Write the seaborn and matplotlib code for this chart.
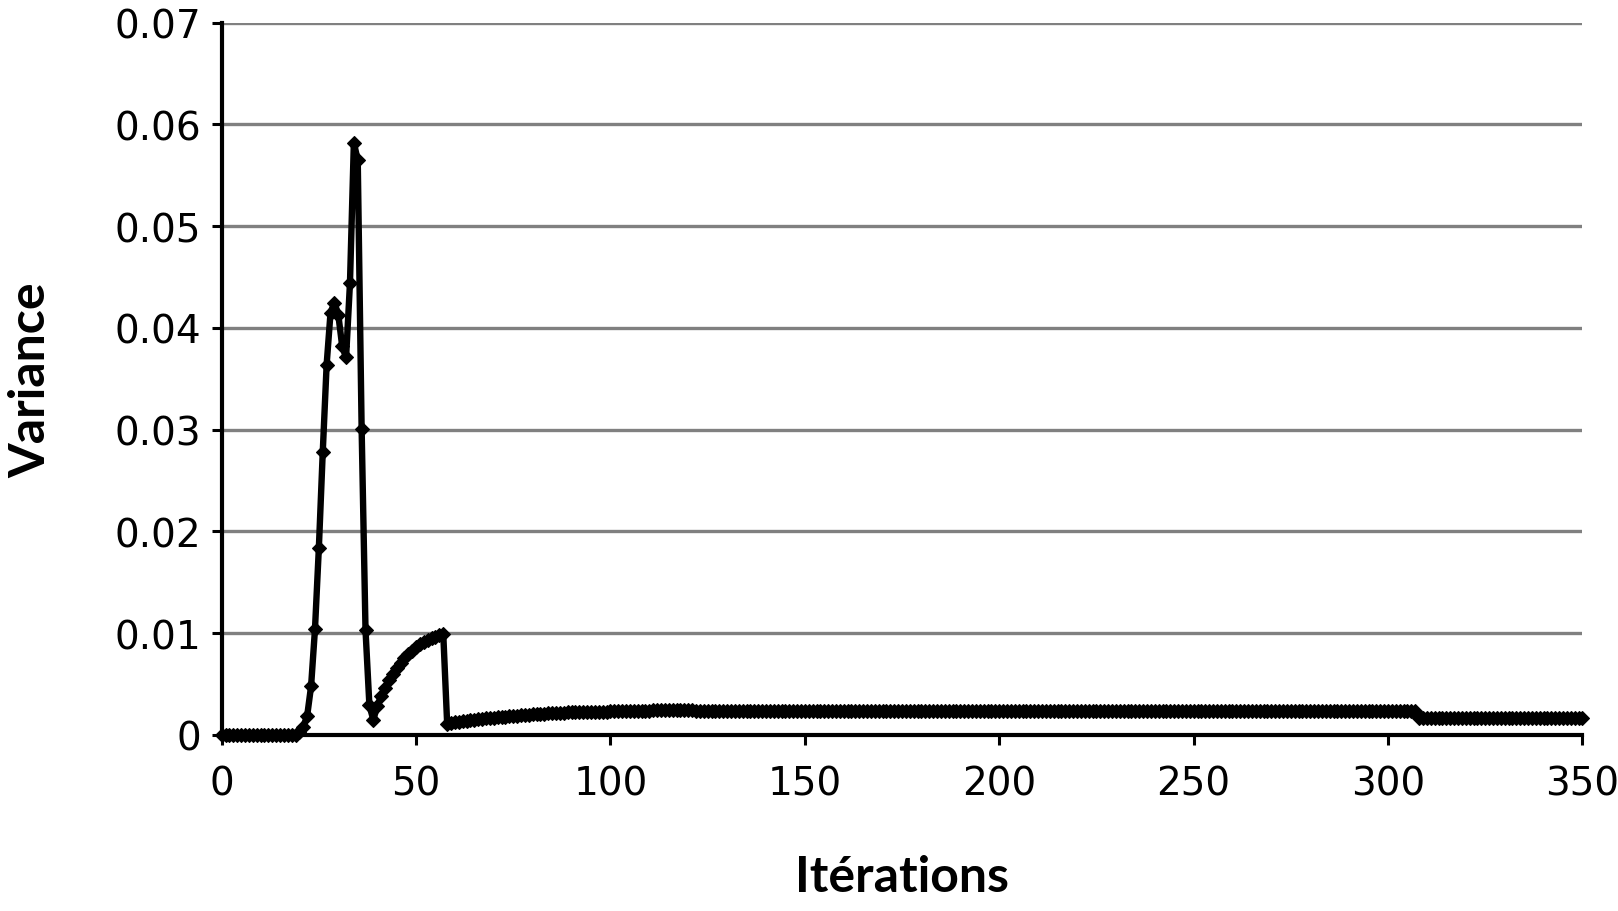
import numpy as np
import pandas as pd
import matplotlib
matplotlib.use("Agg")
import matplotlib.pyplot as plt
import seaborn as sns

# ---- data ----
flat_start = [0.0] * 20                      # iterations 0..19
rise_peak = [0.0003, 0.0008, 0.0019, 0.0048, 0.0104, 0.0184, 0.0278, 0.0364,
             0.0415, 0.0425, 0.0413, 0.0382, 0.0371, 0.0444, 0.0582, 0.0565,
             0.0301, 0.0103, 0.0029, 0.0015]  # iterations 20..39
recovery = [0.0028, 0.0038, 0.0046, 0.0054, 0.0060, 0.0066, 0.0071, 0.0076,
            0.0080, 0.0083, 0.0086, 0.0089, 0.0091, 0.0093, 0.0095, 0.0096,
            0.0098, 0.0099]                   # iterations 40..57
slow_rise = [0.0011, 0.0012, 0.0013, 0.0013, 0.0014, 0.0014, 0.0015, 0.0015,
             0.0016, 0.0016, 0.0017, 0.0017, 0.0017, 0.0018, 0.0018, 0.0018,
             0.0019, 0.0019, 0.0019, 0.0020, 0.0020, 0.0020, 0.0021, 0.0021,
             0.0021, 0.0021, 0.0022, 0.0022, 0.0022, 0.0022, 0.0022, 0.0023,
             0.0023, 0.0023, 0.0023, 0.0023, 0.0023, 0.0023, 0.0023, 0.0023,
             0.0023, 0.0023, 0.0024, 0.0024, 0.0024, 0.0024, 0.0024, 0.0024,
             0.0024, 0.0024, 0.0024, 0.0024, 0.0024, 0.0025, 0.0025, 0.0025,
             0.0025, 0.0025, 0.0025, 0.0025, 0.0025, 0.0025, 0.0025, 0.0025]  # 58..121
plateau = [0.0024] * 186                     # iterations 122..307
final = [0.0017] * 43                        # iterations 308..350

variance = flat_start + rise_peak + recovery + slow_rise + plateau + final
iterations = list(range(len(variance)))

x_ticks = [0, 50, 100, 150, 200, 250, 300, 350]
y_ticks = [0, 0.01, 0.02, 0.03, 0.04, 0.05, 0.06, 0.07]
y_tick_labels = ["0", "0.01", "0.02", "0.03", "0.04", "0.05", "0.06", "0.07"]
x_label = "Itérations"
y_label = "Variance"

df = pd.DataFrame({"Itérations": iterations, "Variance": variance})

# ---- figure ----
sns.set_theme(style="white")
plt.rcParams["font.family"] = ["Lato", "DejaVu Sans"]

fig = plt.figure(figsize=(16.18, 9.12), dpi=100)
ax = fig.add_axes([0.137, 0.193, 0.841, 0.781])

ax.set_axisbelow(True)
ax.yaxis.grid(True, color="#808080", linewidth=2.4)
ax.xaxis.grid(False)

sns.lineplot(data=df, x="Itérations", y="Variance", ax=ax, color="black",
             linewidth=4.6, marker="D", markersize=7,
             markeredgecolor="black", markerfacecolor="black",
             markeredgewidth=0.8, clip_on=False, zorder=5)

ax.set_xlim(0, 350)
ax.set_ylim(0, 0.07)
ax.set_xticks(x_ticks)
ax.set_xticklabels([str(t) for t in x_ticks])
ax.set_yticks(y_ticks)
ax.set_yticklabels(y_tick_labels)

for side in ["top", "right"]:
    ax.spines[side].set_visible(False)
for side in ["left", "bottom"]:
    ax.spines[side].set_visible(True)
    ax.spines[side].set_color("black")
    ax.spines[side].set_linewidth(3)

ax.tick_params(axis="both", which="major", direction="out", length=7, width=2.2,
               color="black", labelsize=28, labelcolor="black")
ax.tick_params(axis="y", pad=8, left=True)
ax.tick_params(axis="x", pad=14, bottom=True)
for lab in ax.get_xticklabels() + ax.get_yticklabels():
    lab.set_family(["DejaVu Sans"])

ax.set_xlabel(x_label, fontsize=36, fontweight="bold", color="black")
ax.set_ylabel(y_label, fontsize=36, fontweight="bold", color="black")
ax.xaxis.set_label_coords(0.5, -0.198)
ax.xaxis.label.set_va("center")
ax.yaxis.set_label_coords(-0.140, 0.5)
ax.yaxis.label.set_va("center")

fig.savefig("out.png", dpi=100, facecolor="white")
